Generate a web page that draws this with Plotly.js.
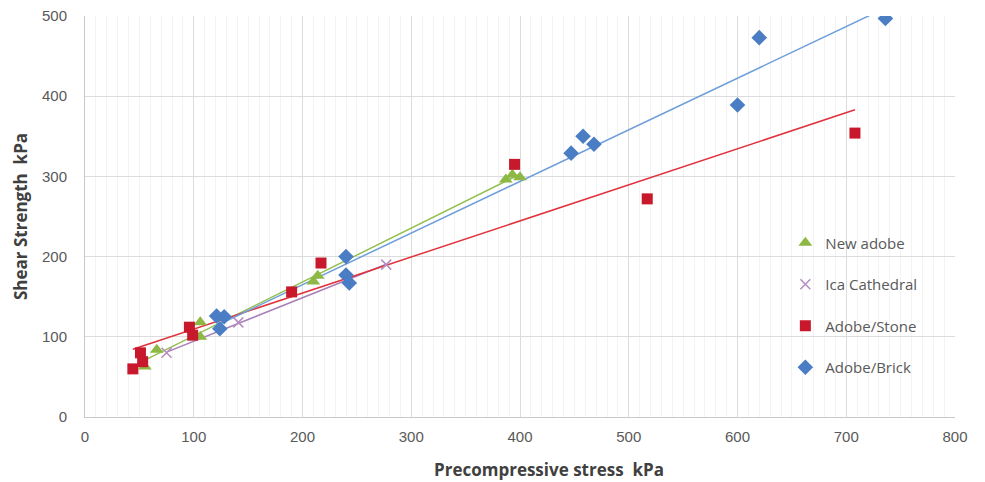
<!DOCTYPE html>
<html><head><meta charset="utf-8">
<script src="https://cdn.plot.ly/plotly-3.0.1.min.js"></script>
<style>html,body{margin:0;padding:0;background:#fff}#chart{width:985px;height:482px}</style>
</head><body><div id="chart"></div>
<script>
// New adobe
const newAdobeX = [55, 66, 106, 106, 210, 214, 387, 393, 400];
const newAdobeY = [63, 84, 118, 100, 169, 176, 296, 302, 299];
// Ica Cathedral
const icaX = [75, 141, 277];
const icaY = [80, 118, 190];
// Adobe/Stone
const stoneX = [44, 51, 53, 96, 99, 190, 217, 395, 517, 708];
const stoneY = [60, 80, 69, 112, 102, 156, 192, 315, 272, 354];
// Adobe/Brick
const brickX = [121, 128, 124, 240, 240, 243, 447, 458, 468, 600, 620, 736];
const brickY = [126, 125, 110, 200, 177, 167, 329, 350, 340, 389, 473, 497];

const xTicks = [0, 100, 200, 300, 400, 500, 600, 700, 800];
const yTicks = [0, 100, 200, 300, 400, 500];

function trend(xs, ys) {
  const n = xs.length;
  const mx = xs.reduce((a, b) => a + b, 0) / n;
  const my = ys.reduce((a, b) => a + b, 0) / n;
  let sxy = 0, sxx = 0;
  for (let i = 0; i < n; i++) { sxy += (xs[i] - mx) * (ys[i] - my); sxx += (xs[i] - mx) ** 2; }
  const b = sxy / sxx, a = my - b * mx;
  const x0 = Math.min(...xs), x1 = Math.max(...xs);
  return { x: [x0, x1], y: [a + b * x0, a + b * x1] };
}

const series = [
  { name: 'New adobe', x: newAdobeX, y: newAdobeY, color: '#8DB843', line: '#92C04F', symbol: 'triangle-up', size: 12 },
  { name: 'Ica Cathedral', x: icaX, y: icaY, color: '#B58CC0', line: '#A97FB8', symbol: 'x-thin', size: 10 },
  { name: 'Adobe/Stone', x: stoneX, y: stoneY, color: '#C8192C', line: '#E0323C', symbol: 'square', size: 11 },
  { name: 'Adobe/Brick', x: brickX, y: brickY, color: '#4A7DC4', line: '#6E9ED9', symbol: 'diamond', size: 12 }
];

const traces = [];
series.forEach((s, i) => {
  const t = trend(s.x, s.y);
  traces.push({ x: t.x, y: t.y, mode: 'lines', type: 'scatter', showlegend: false, hoverinfo: 'skip',
    line: { color: s.line, width: 1.5 } });
});
series.forEach((s, i) => {
  traces.push({ x: s.x, y: s.y, mode: 'markers', type: 'scatter', name: s.name, legendgroup: 'g' + i,
    marker: { color: s.color, symbol: s.symbol, size: s.size,
      line: s.symbol === 'x-thin' ? { color: s.color, width: 1.5 } : { width: 0 } } });
});

const tickFont = { family: 'Liberation Sans Narrow, Arial Narrow, sans-serif', size: 15, color: '#595959' };
const titleFont = { family: 'Open Sans, sans-serif', size: 17, color: '#404040', weight: 'bold' };

const layout = {
  width: 985, height: 482,
  margin: { l: 85, r: 30, t: 16, b: 65 },
  paper_bgcolor: '#fff', plot_bgcolor: '#fff',
  showlegend: true,
  legend: { x: 0.805, y: 0.475, xanchor: 'left', yanchor: 'top', traceorder: 'grouped', tracegroupgap: 19,
    font: { family: 'Open Sans, sans-serif', size: 15, color: '#595959' }, bgcolor: 'rgba(0,0,0,0)' },
  xaxis: { range: [0, 800], tickvals: xTicks, ticktext: xTicks.map(String), tickfont: tickFont,
    showgrid: true, gridcolor: '#DCDCDC', gridwidth: 1, zeroline: false,
    minor: { dtick: 10, showgrid: true, gridcolor: '#F3F3F3', gridwidth: 1 },
    showline: true, linecolor: '#C8C8C8', ticks: '', ticklabelstandoff: 6, fixedrange: true },
  yaxis: { range: [0, 500], tickvals: yTicks, ticktext: yTicks.map(String), tickfont: tickFont,
    showgrid: true, gridcolor: '#DCDCDC', gridwidth: 1, zeroline: false,
    showline: true, linecolor: '#C8C8C8', ticks: '', ticklabelstandoff: 14, fixedrange: true,
    title: { text: 'Shear Strength  kPa', font: titleFont, standoff: 10 } },
  annotations: [{ text: 'Precompressive stress  kPa', xref: 'paper', yref: 'paper', x: 0.533, y: -0.13,
    xanchor: 'center', yanchor: 'middle', showarrow: false, font: titleFont }]
};

Plotly.newPlot('chart', traces, layout, { displayModeBar: false, staticPlot: true });
</script></body></html>
